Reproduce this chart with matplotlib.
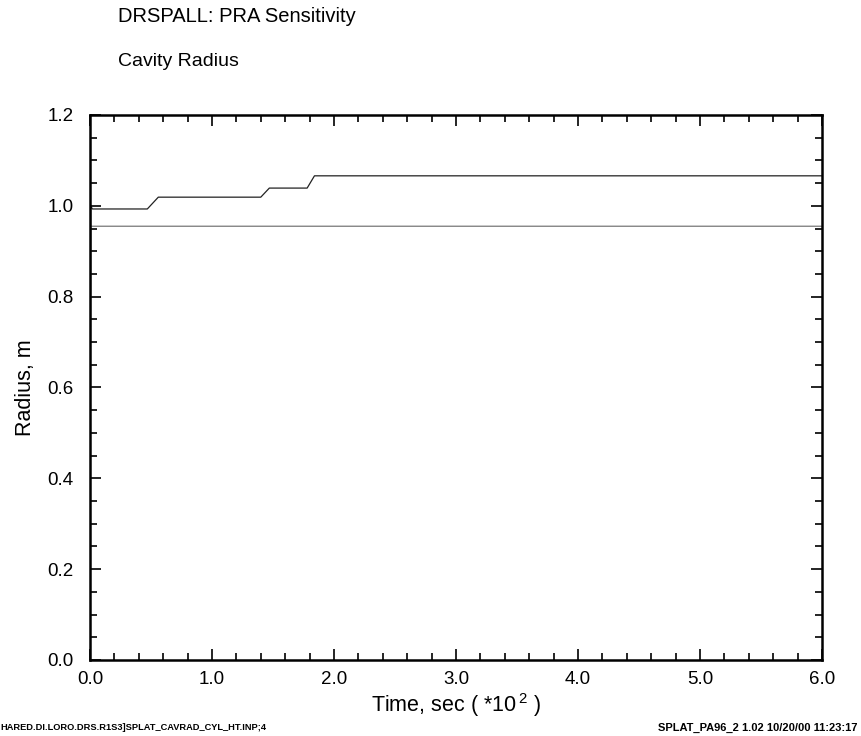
import numpy as np
import matplotlib.pyplot as plt
from matplotlib.ticker import MultipleLocator

plt.rcParams['font.family'] = ['Liberation Sans', 'DejaVu Sans']
plt.rcParams['mathtext.fontset'] = 'custom'
plt.rcParams['mathtext.rm'] = 'Liberation Sans'

# Cavity radius vs time (time in units of 100 s)
t_upper = [0.0, 0.005, 0.02, 0.47, 0.56, 1.40, 1.47, 1.78, 1.84, 6.0]
r_upper = [0.0, 1.000, 0.993, 0.993, 1.019, 1.019, 1.039, 1.039, 1.066, 1.066]

t_lower = [0.0, 0.005, 6.0]
r_lower = [0.0, 0.955, 0.955]

x_ticks = [0, 1, 2, 3, 4, 5, 6]
y_ticks = [0.0, 0.2, 0.4, 0.6, 0.8, 1.0, 1.2]

fig = plt.figure(figsize=(8.61, 7.36), dpi=100)
ax = fig.add_axes([0.1045, 0.1033, 0.8502, 0.7405])

ax.plot(t_upper, r_upper, color='#222222', linewidth=0.9)
ax.plot(t_lower, r_lower, color='#777777', linewidth=0.9)

ax.set_xlim(0, 6)
ax.set_ylim(0, 1.2)
ax.set_xticks(x_ticks)
ax.set_yticks(y_ticks)
ax.set_xticklabels([f"{v:.1f}" for v in x_ticks], fontsize=13.5)
ax.set_yticklabels([f"{v:.1f}" for v in y_ticks], fontsize=13.5)
ax.xaxis.set_minor_locator(MultipleLocator(0.2))
ax.yaxis.set_minor_locator(MultipleLocator(0.05))
ax.tick_params(which='both', direction='in', top=True, right=True, width=1.2)
ax.tick_params(which='major', length=8)
ax.tick_params(axis='x', which='major', pad=8)
ax.tick_params(axis='y', which='major', pad=12)
ax.tick_params(which='minor', length=5)
for s in ax.spines.values():
    s.set_linewidth(1.8)

ax.set_xlabel('Time, sec ( *10$^{\\,2}$ )', fontsize=15.5, labelpad=2)
ax.set_ylabel('Radius, m', fontsize=15.5, labelpad=8)

fig.text(118 / 861, 1 - 17 / 736, 'DRSPALL: PRA Sensitivity', fontsize=14.5, va='center')
fig.text(118 / 861, 1 - 62 / 736, 'Cavity Radius', fontsize=14, va='center')

fig.text(0.0, 1 - 728 / 736, 'HARED.DI.LORO.DRS.R1S3]SPLAT_CAVRAD_CYL_HT.INP;4',
         fontsize=6.7, fontweight='bold', va='center')
fig.text(858 / 861, 1 - 728 / 736, 'SPLAT_PA96_2 1.02 10/20/00 11:23:17',
         fontsize=8, fontweight='bold', va='center', ha='right')

plt.savefig('out.png', dpi=100)
